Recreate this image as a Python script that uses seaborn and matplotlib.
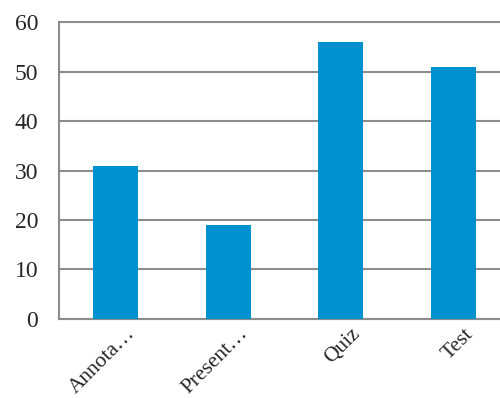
import matplotlib
matplotlib.use("Agg")
import matplotlib.pyplot as plt
import matplotlib.transforms as mtransforms
import seaborn as sns
import pandas as pd

categories = ["Annota…", "Present…", "Quiz", "Test"]
values = [31, 19, 56, 51]

df = pd.DataFrame({"category": categories, "value": values})

sns.set_style("white")
plt.rcParams["font.family"] = ["Liberation Serif", "DejaVu Serif"]

fig = plt.figure(figsize=(5, 3.98), dpi=100)
ax = fig.add_axes([0.118, 0.1985, 0.882, 0.7462])

sns.barplot(data=df, x="category", y="value", color="#0091CE", saturation=1,
            width=0.4, linewidth=0, ax=ax, zorder=3)

grid_color = "#8c8c8c"
ax.set_ylim(0, 60)
ax.set_yticks(range(0, 61, 10))
ax.set_xlim(-0.5, 3.413)
ax.yaxis.grid(True, color=grid_color, linewidth=1.5, zorder=0)
for gl in ax.get_ygridlines():
    gl.set_clip_on(False)
ax.set_axisbelow(True)

for side in ["top", "right"]:
    ax.spines[side].set_visible(False)
for side in ["left", "bottom"]:
    ax.spines[side].set_color(grid_color)
    ax.spines[side].set_linewidth(1.5)

ax.tick_params(axis="y", length=7, width=1.5, color=grid_color, labelsize=17, pad=8)
ax.tick_params(axis="x", length=0, labelsize=15.5, pad=4)
ax.set_xticks([-0.5, 0.5, 1.5, 2.5], minor=True)
ax.tick_params(axis="x", which="minor", length=6, width=1.5, color=grid_color)

# shift rotated labels so their end sits just right of the bar centre
offset = mtransforms.ScaledTranslation(10 / 100, 0, fig.dpi_scale_trans)
for lbl in ax.get_xticklabels():
    lbl.set_rotation(45)
    lbl.set_ha("right")
    lbl.set_va("top")
    lbl.set_rotation_mode("anchor")
    lbl.set_transform(lbl.get_transform() + offset)

ax.set_xlabel("")
ax.set_ylabel("")

fig.savefig("out.png", dpi=100)
